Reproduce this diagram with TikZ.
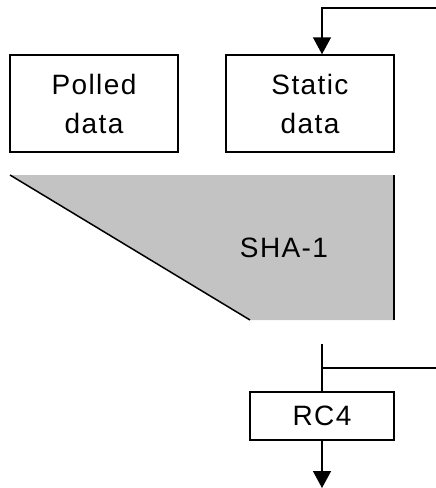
\documentclass[tikz,border=0pt]{standalone}
\usepackage{fontspec}
\setmainfont[LetterSpace=5]{Liberation Sans}
\usetikzlibrary{arrows.meta}
\begin{document}
\begin{tikzpicture}[x=1pt,y=-1pt,
  line/.style={line width=1.5pt},
  box/.style={draw,line width=1.5pt,rectangle,inner sep=0pt,align=center,
    font=\fontsize{28}{39}\selectfont},
  arr/.style={line/.try,-{Triangle[length=17pt,width=18pt]}}]
\useasboundingbox (0,0) rectangle (436,488);
% boxes
\node[box,minimum width=168pt,minimum height=97pt] (polled) at (94,103.5) {Polled\\data};
\node[box,minimum width=168pt,minimum height=97pt] (static) at (310,103.5) {Static\\data};
% SHA-1 shape
\coordinate (shaTL) at (10,175);
\coordinate (shaTR) at (394,175);
\coordinate (shaBR) at (394,320);
\coordinate (shaBL) at (250,320);
\fill[fill={rgb,255:red,195;green,195;blue,195}] (shaTL) -- (shaTR) -- (shaBR) -- (shaBL) -- cycle;
\draw[line] (shaTL) -- (shaBL);
\draw[line] (shaTR) -- (shaBR);
\node[font=\fontsize{28}{39}\selectfont] (sha) at (284,248) {SHA-1};
% RC4
\node[box,minimum width=144pt,minimum height=48pt] (rc4) at (322,416) {RC4};
% connectors
\coordinate (topR) at (436,8);
\coordinate (topC) at (322,8);
\draw[line,arr] (topR) -- (topC) -- (topC |- static.north);
\coordinate (outTop) at (322,344);
\coordinate (branch) at (322,368);
\coordinate (branchR) at (436,368);
\draw[line] (outTop) -- (rc4.north);
\draw[line] (branch) -- (branchR);
\coordinate (outEnd) at (322,488);
\draw[line,arr] (rc4.south) -- (outEnd);
\end{tikzpicture}
\end{document}
